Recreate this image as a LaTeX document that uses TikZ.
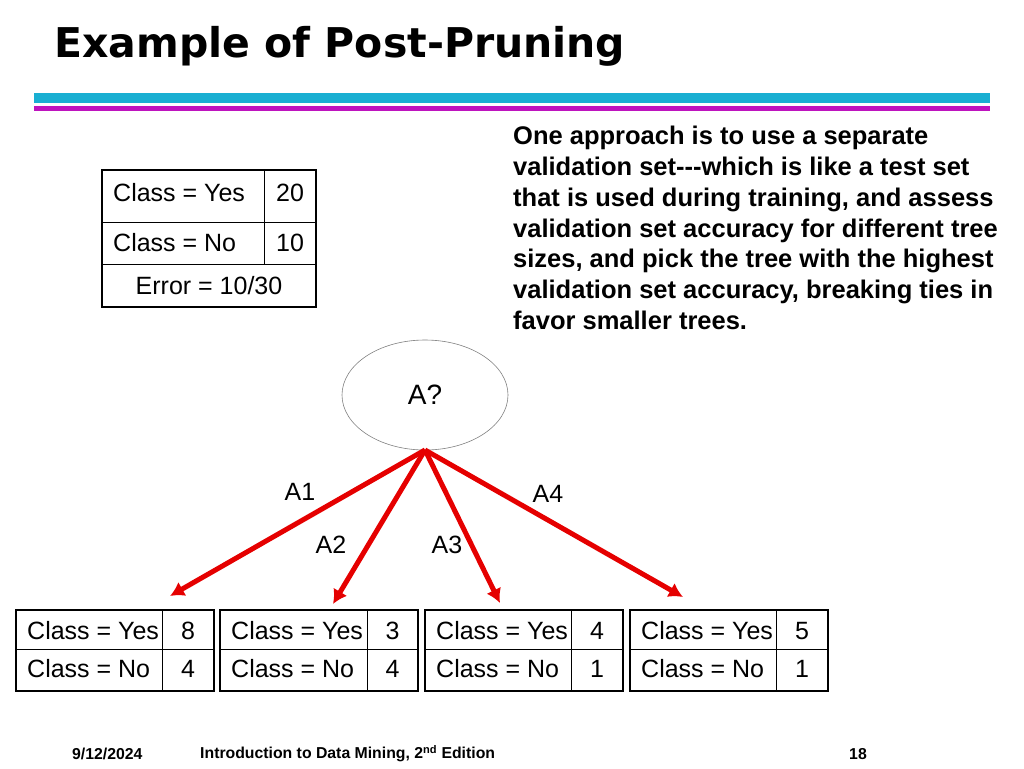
\documentclass[tikz,border=0pt]{standalone}
\usepackage{fontspec}
\setmainfont{Liberation Sans}
\newfontfamily\titlefont{DejaVu Sans}
\usetikzlibrary{arrows.meta,shapes.geometric}
\definecolor{barcyan}{RGB}{25,175,210}
\definecolor{barmag}{RGB}{190,20,190}
\begin{document}
\begin{tikzpicture}[x=1pt,y=-1pt,
  cell/.style={draw,line width=1pt},
  box/.style={draw,line width=2.5pt},
  txt/.style={font=\fontsize{25}{29}\selectfont,inner sep=0pt},
  lab/.style={font=\fontsize{25}{29}\selectfont,inner sep=0pt},
  arr/.style={draw=red!90!black,line width=5pt,-{Latex[length=14pt,width=16pt]}}]
\useasboundingbox (0,0) rectangle (1024,768);
\node[anchor=west,font=\titlefont\bfseries\fontsize{41}{44}\selectfont,inner sep=0pt] (title) at (54,46) {Example of Post-Pruning};
\fill[barcyan] (34,93) rectangle (990,103);
\fill[barmag] (34,106) rectangle (990,111);
% top table
\draw[cell] (102,222) -- (316,222) (102,264) -- (316,264) (264,170) -- (264,264);
\draw[box] (102,170) rectangle (316,307);
\node[txt,anchor=west] (ty) at (113,193) {Class = Yes};
\node[txt] (tyv) at (290,193) {20};
\node[txt,anchor=west] (tn) at (113,243) {Class = No};
\node[txt] (tnv) at (290,243) {10};
\node[txt] (te) at (209,286) {Error = 10/30};
% paragraph
\node[anchor=north west,align=left,inner sep=0pt,font=\bfseries\fontsize{25.5}{30.8}\selectfont] (para) at (513,126) {One approach is to use a separate\\validation set-{}-{}-which is like a test set\\that is used during training, and assess\\validation set accuracy for different tree\\sizes, and pick the tree with the highest\\validation set accuracy, breaking ties in\\favor smaller trees.};
% ellipse
\node[draw=gray,ellipse,minimum width=166pt,minimum height=110pt,line width=0.6pt] (A) at (425,395) {};
\node[lab,font=\fontsize{28}{32}\selectfont] (Alab) at (425,395) {A?};
\coordinate (root) at (425,450);
\foreach \x/\s/\a/\b/\n in {16/162/8/4/1,220/367/3/4/2,425/571/4/1/3,630/776/5/1/4}{
  \draw[cell] (\x,649) -- (\x+198,649) (\s,610) -- (\s,691);
  \draw[box] (\x,610) rectangle (\x+198,691);
  \node[txt,anchor=west] (y\n) at (\x+11,631) {Class = Yes};
  \node[txt] (yv\n) at ({(\s+\x+198)/2},631) {\a};
  \node[txt,anchor=west] (n\n) at (\x+11,669) {Class = No};
  \node[txt] (nv\n) at ({(\s+\x+198)/2},669) {\b};
}
\coordinate (e1) at (170,596);
\coordinate (e2) at (333,604);
\coordinate (e3) at (500,603);
\coordinate (e4) at (683,597);
\foreach \i in {1,...,4}{\draw[arr] (root) -- (e\i);}
\node[lab] (l1) at (300,492) {A1};
\node[lab] (l2) at (331,545) {A2};
\node[lab] (l3) at (447,545) {A3};
\node[lab] (l4) at (548,494) {A4};
\node[anchor=west,inner sep=0pt,font=\bfseries\fontsize{15.8}{18}\selectfont] (date) at (72,754) {9/12/2024};
\node[anchor=west,inner sep=0pt,font=\bfseries\fontsize{15.8}{18}\selectfont] (book) at (200,754) {Introduction to Data Mining, 2\textsuperscript{nd} Edition};
\node[inner sep=0pt,font=\bfseries\fontsize{15.8}{18}\selectfont] (pg) at (858,754) {18};
\end{tikzpicture}
\end{document}
